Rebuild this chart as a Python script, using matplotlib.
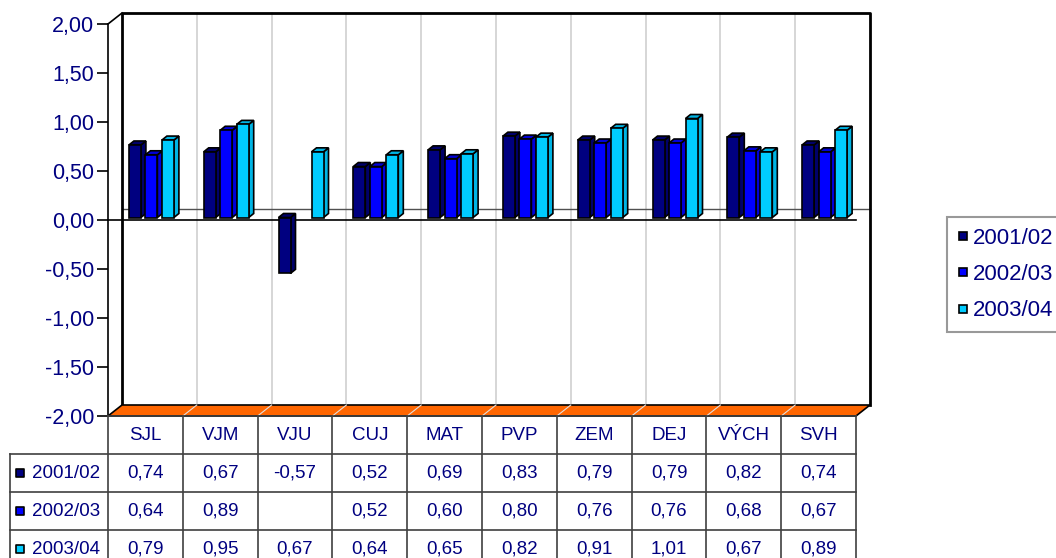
import numpy as np
import matplotlib
matplotlib.use("Agg")
import matplotlib.pyplot as plt
from matplotlib.lines import Line2D

plt.rcParams['font.family'] = ['Liberation Sans', 'DejaVu Sans']

# ------------------------------------------------------------
# DATA
# ------------------------------------------------------------
categories = ["SJL", "VJM", "VJU", "CUJ", "MAT", "PVP", "ZEM", "DEJ", "VÝCH", "SVH"]
series_names = ["2001/02", "2002/03", "2003/04"]
v2001 = [0.74, 0.67, -0.57, 0.52, 0.69, 0.83, 0.79, 0.79, 0.82, 0.74]
v2002 = [0.64, 0.89, np.nan, 0.52, 0.60, 0.80, 0.76, 0.76, 0.68, 0.67]
v2003 = [0.79, 0.95, 0.67, 0.64, 0.65, 0.82, 0.91, 1.01, 0.67, 0.89]
yticks = [-2.0, -1.5, -1.0, -0.5, 0.0, 0.5, 1.0, 1.5, 2.0]

face_colors = ["#000080", "#0000FF", "#00CCFF"]
side_colors = ["#00006A", "#0000D8", "#00B4E4"]
navy = "#000080"

# ------------------------------------------------------------
# FIGURE / MAIN AXES (front plane of the 3D box)
# ------------------------------------------------------------
W, H = 1056, 558
fig = plt.figure(figsize=(W / 100, H / 100), dpi=100)
fig.patch.set_facecolor("white")

front_l, front_r, front_t, front_b = 108, 856, 24, 416
ax = fig.add_axes([front_l / W, (H - front_b) / H,
                   (front_r - front_l) / W, (front_b - front_t) / H])
ncat = len(categories)
ax.set_xlim(0, ncat)
ax.set_ylim(-2, 2)
ax.patch.set_alpha(0)

# pixel -> data units
ux = ncat / (front_r - front_l)
uy = 4.0 / (front_b - front_t)

# depth offsets
bx, by = 14 * ux, 11 * uy          # back wall
ox, oy = 6 * ux, 2.5 * uy          # bar plane
dx, dy = 5 * ux, 4 * uy            # bar depth
fw = 12 * ux                       # bar front width
pitch = 16.5 * ux

# back wall
ax.fill([bx, ncat + bx, ncat + bx, bx], [-2 + by, -2 + by, 2 + by, 2 + by],
        facecolor="white", edgecolor="none", zorder=0, clip_on=False)
for i in range(1, ncat):
    ax.plot([i + bx, i + bx], [-2 + by, 2 + by], color="#d0d0d0", lw=1.2,
            zorder=1, clip_on=False)
ax.plot([bx, ncat + bx], [by, by], color="#505050", lw=1, zorder=1, clip_on=False)
ax.plot([bx, bx, ncat + bx, ncat + bx], [-2 + by, 2 + by, 2 + by, -2 + by],
        color="black", lw=2, zorder=2, clip_on=False)

# left wall edge
ax.plot([0, bx], [2, 2 + by], color="black", lw=1.2, zorder=2, clip_on=False)

# floor
ax.fill([0, ncat, ncat + bx, bx], [-2, -2, -2 + by, -2 + by],
        facecolor="#FF6600", edgecolor="black", lw=1.2, zorder=2, clip_on=False)
for i in range(1, ncat):
    ax.plot([i, i + bx], [-2, -2 + by], color="#e0e0e0", lw=0.8, zorder=3,
            clip_on=False)

# front zero line
ax.plot([0, ncat], [0, 0], color="black", lw=1.2, zorder=3, clip_on=False)

# bars
all_vals = [v2001, v2002, v2003]
for i in range(ncat):
    for j, vals in enumerate(all_vals):
        v = vals[i]
        if np.isnan(v):
            continue
        xc = i + 0.5 + ox + (j - 1) * pitch
        x0, x1 = xc - fw / 2, xc + fw / 2
        lo, hi = oy + min(0, v), oy + max(0, v)
        ax.fill([x1, x1 + dx, x1 + dx, x1], [lo, lo + dy, hi + dy, hi],
                facecolor=side_colors[j], edgecolor="black", lw=1.2,
                zorder=5, clip_on=False)
        ax.fill([x0, x1, x1 + dx, x0 + dx], [hi, hi, hi + dy, hi + dy],
                facecolor=side_colors[j], edgecolor="black", lw=1.2,
                zorder=5, clip_on=False)
        ax.bar(xc, v, width=fw, bottom=oy, color=face_colors[j],
               edgecolor="black", lw=1.2, zorder=6, clip_on=False)

# y axis
for s in ["top", "right", "bottom"]:
    ax.spines[s].set_visible(False)
ax.spines["left"].set_linewidth(1.2)
ax.set_xticks([])
ax.set_yticks(yticks)
ax.set_yticklabels([f"{t:.2f}".replace(".", ",") for t in yticks])
ax.tick_params(axis="y", direction="out", length=8, width=1.2, pad=2,
               labelsize=15.5, labelcolor=navy)

# legend
handles = [Line2D([], [], marker="s", linestyle="none", markersize=6,
                  markerfacecolor=c, markeredgecolor="black", markeredgewidth=1.2)
           for c in face_colors]
leg = fig.legend(handles, series_names, loc="upper left",
                 bbox_to_anchor=(947 / W, 1 - 217 / H), fontsize=16,
                 frameon=True, fancybox=False, edgecolor="#808080",
                 handlelength=0.45, handletextpad=0.2, labelspacing=0.68,
                 borderpad=0.5, borderaxespad=0)
leg.get_frame().set_linewidth(1.5)
for t in leg.get_texts():
    t.set_color(navy)

# ------------------------------------------------------------
# DATA TABLE
# ------------------------------------------------------------
tab_l, row_h = 10, 38
lab_w = (front_l - tab_l) * ux
tax = fig.add_axes([tab_l / W, (H - front_b - 4 * row_h) / H,
                    (front_r - tab_l) / W, 4 * row_h / H])
tax.set_xlim(-lab_w, ncat)
tax.set_ylim(4, 0)
tax.axis("off")

lc = "#404040"
for r in range(1, 5):
    tax.plot([-lab_w, ncat], [r, r], color=lc, lw=1.2, clip_on=False)
tax.plot([0, ncat], [0, 0], color=lc, lw=1.2, clip_on=False)
for c in range(ncat + 1):
    tax.plot([c, c], [0, 4], color=lc, lw=1.2, clip_on=False)
tax.plot([-lab_w, -lab_w], [1, 4], color=lc, lw=1.2, clip_on=False)

for i, cat in enumerate(categories):
    tax.text(i + 0.5, 0.5, cat, ha="center", va="center", fontsize=13.5, color=navy)
for j, vals in enumerate(all_vals):
    tax.scatter([-lab_w + 9.5 * ux], [j + 1.5], marker="s", s=40,
                color=face_colors[j], edgecolors="black", linewidths=1.2,
                clip_on=False)
    tax.text(-lab_w + 22 * ux, j + 1.5, series_names[j], ha="left", va="center",
             fontsize=13.5, color=navy)
    for i, v in enumerate(vals):
        if np.isnan(v):
            continue
        tax.text(i + 0.5, j + 1.5, f"{v:.2f}".replace(".", ","), ha="center",
                 va="center", fontsize=13.5, color=navy)

fig.savefig("out.png", dpi=100)
